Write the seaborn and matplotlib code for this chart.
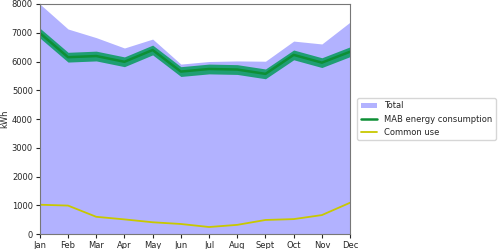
import matplotlib
matplotlib.use('Agg')
import matplotlib.pyplot as plt
import numpy as np
import pandas as pd
import seaborn as sns

months = ['Jan', 'Feb', 'Mar', 'Apr', 'May', 'Jun', 'Jul', 'Aug', 'Sept', 'Oct', 'Nov', 'Dec']
total = [8000, 7130, 6830, 6470, 6780, 5910, 6000, 6020, 6010, 6710, 6610, 7370]
mab = [6990, 6150, 6190, 5990, 6400, 5650, 5740, 5720, 5570, 6230, 5960, 6340]
mab_band = 170
common = [1020, 990, 600, 510, 410, 350, 245, 320, 490, 520, 660, 1090]

df = pd.DataFrame({'month': months, 'total': total, 'mab': mab, 'common': common})
x = np.arange(len(months))

sns.set_style('ticks')
plt.rcParams['font.family'] = ['DejaVu Sans']

fig, ax = plt.subplots(figsize=(4.98, 2.49), dpi=100)

ax.fill_between(x, 0, df['total'], color='blue', alpha=0.3, linewidth=0, label='Total')
ax.fill_between(x, df['mab'] - mab_band, df['mab'] + mab_band, color='#1f9e74', linewidth=0)
sns.lineplot(x=x, y=df['mab'], ax=ax, color='#0d8f35', linewidth=1.8, label='MAB energy consumption')
sns.lineplot(x=x, y=df['common'], ax=ax, color='#c8c800', linewidth=1.3, label='Common use')

ax.set_xlim(0, 11)
ax.set_ylim(0, 8000)
ax.set_xticks(x)
ax.set_xticklabels(months)
ax.set_ylabel('kWh', fontsize=6, labelpad=2)
ax.set_xlabel('')
ax.tick_params(labelsize=6, length=3, pad=2)
for s in ax.spines.values():
    s.set_visible(True)
    s.set_color('#777777')

h, l = ax.get_legend_handles_labels()
order = [l.index('Total'), l.index('MAB energy consumption'), l.index('Common use')]
ax.legend([h[i] for i in order], [l[i] for i in order], loc='center left',
          bbox_to_anchor=(1.01, 0.5), fontsize=6, frameon=True)

fig.subplots_adjust(left=0.08, right=0.703, top=0.984, bottom=0.06)
fig.savefig('out.png', dpi=100)
